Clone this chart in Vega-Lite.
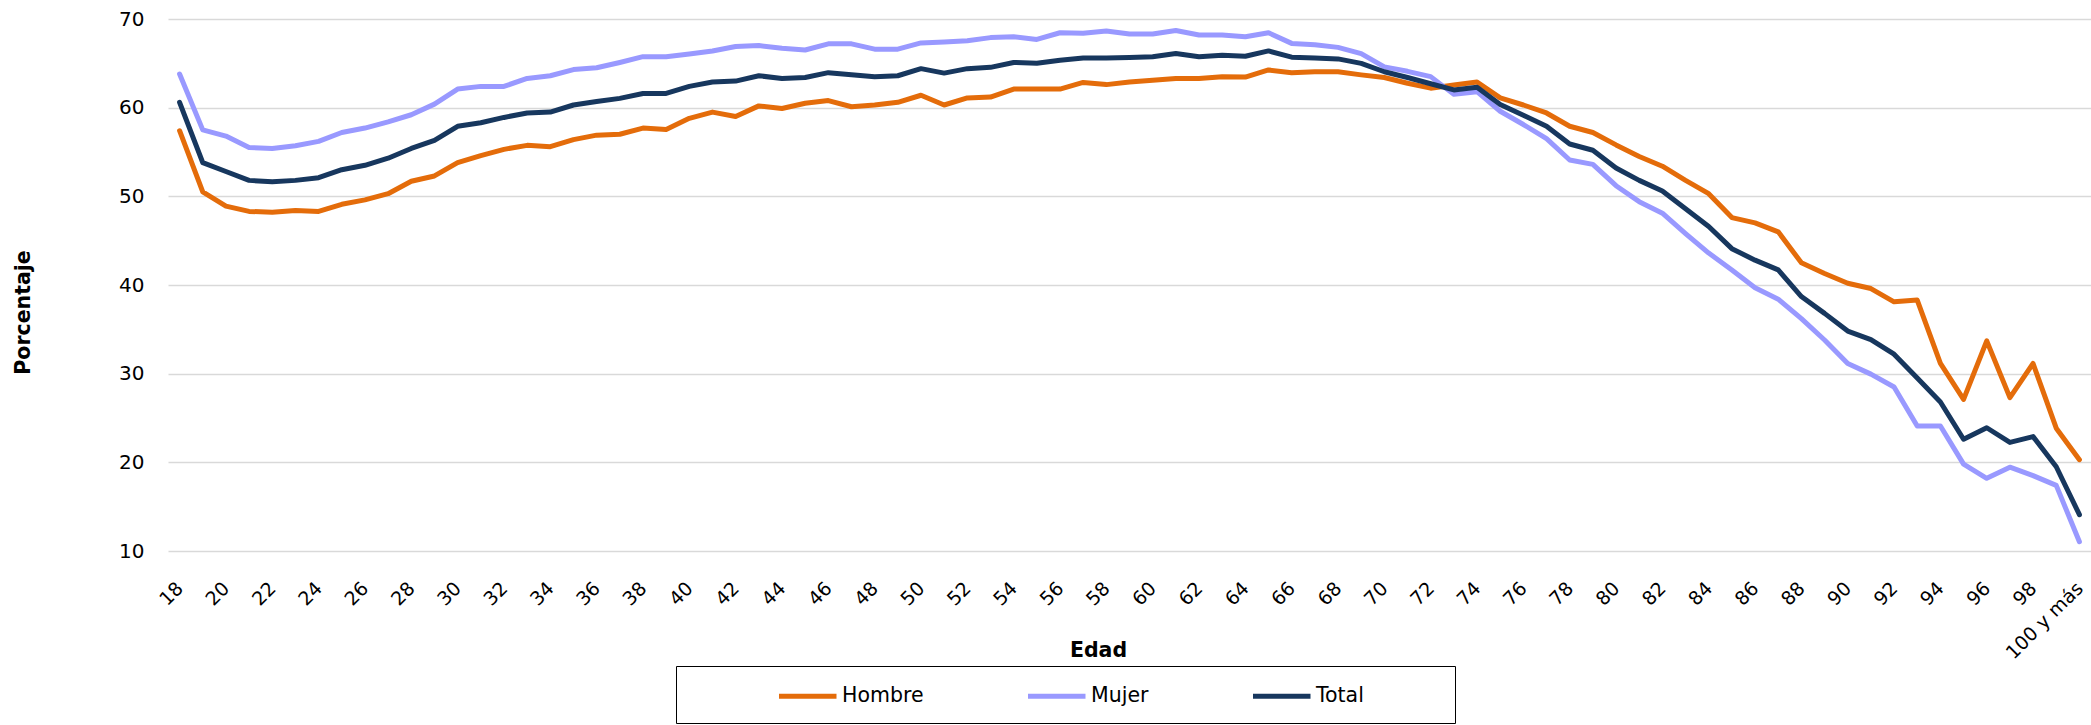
{
  "$schema": "https://vega.github.io/schema/vega-lite/v6.json",
  "autosize": "none",
  "padding": {"left": 168, "top": 19, "right": 0, "bottom": 174},
  "width": 1923,
  "height": 532,
  "data": {
    "values": [
      {"edad": "18", "sexo": "Hombre", "valor": 57.4}, {"edad": "18", "sexo": "Mujer", "valor": 63.8}, {"edad": "18", "sexo": "Total", "valor": 60.6},
      {"edad": "19", "sexo": "Hombre", "valor": 50.5}, {"edad": "19", "sexo": "Mujer", "valor": 57.5}, {"edad": "19", "sexo": "Total", "valor": 53.8},
      {"edad": "20", "sexo": "Hombre", "valor": 48.9}, {"edad": "20", "sexo": "Mujer", "valor": 56.8}, {"edad": "20", "sexo": "Total", "valor": 52.8},
      {"edad": "21", "sexo": "Hombre", "valor": 48.3}, {"edad": "21", "sexo": "Mujer", "valor": 55.5}, {"edad": "21", "sexo": "Total", "valor": 51.8},
      {"edad": "22", "sexo": "Hombre", "valor": 48.2}, {"edad": "22", "sexo": "Mujer", "valor": 55.4}, {"edad": "22", "sexo": "Total", "valor": 51.65},
      {"edad": "23", "sexo": "Hombre", "valor": 48.4}, {"edad": "23", "sexo": "Mujer", "valor": 55.7}, {"edad": "23", "sexo": "Total", "valor": 51.8},
      {"edad": "24", "sexo": "Hombre", "valor": 48.3}, {"edad": "24", "sexo": "Mujer", "valor": 56.2}, {"edad": "24", "sexo": "Total", "valor": 52.1},
      {"edad": "25", "sexo": "Hombre", "valor": 49.1}, {"edad": "25", "sexo": "Mujer", "valor": 57.2}, {"edad": "25", "sexo": "Total", "valor": 53.0},
      {"edad": "26", "sexo": "Hombre", "valor": 49.6}, {"edad": "26", "sexo": "Mujer", "valor": 57.7}, {"edad": "26", "sexo": "Total", "valor": 53.5},
      {"edad": "27", "sexo": "Hombre", "valor": 50.3}, {"edad": "27", "sexo": "Mujer", "valor": 58.4}, {"edad": "27", "sexo": "Total", "valor": 54.3},
      {"edad": "28", "sexo": "Hombre", "valor": 51.7}, {"edad": "28", "sexo": "Mujer", "valor": 59.2}, {"edad": "28", "sexo": "Total", "valor": 55.4},
      {"edad": "29", "sexo": "Hombre", "valor": 52.3}, {"edad": "29", "sexo": "Mujer", "valor": 60.4}, {"edad": "29", "sexo": "Total", "valor": 56.3},
      {"edad": "30", "sexo": "Hombre", "valor": 53.8}, {"edad": "30", "sexo": "Mujer", "valor": 62.1}, {"edad": "30", "sexo": "Total", "valor": 57.9},
      {"edad": "31", "sexo": "Hombre", "valor": 54.6}, {"edad": "31", "sexo": "Mujer", "valor": 62.4}, {"edad": "31", "sexo": "Total", "valor": 58.3},
      {"edad": "32", "sexo": "Hombre", "valor": 55.3}, {"edad": "32", "sexo": "Mujer", "valor": 62.4}, {"edad": "32", "sexo": "Total", "valor": 58.9},
      {"edad": "33", "sexo": "Hombre", "valor": 55.75}, {"edad": "33", "sexo": "Mujer", "valor": 63.3}, {"edad": "33", "sexo": "Total", "valor": 59.4},
      {"edad": "34", "sexo": "Hombre", "valor": 55.6}, {"edad": "34", "sexo": "Mujer", "valor": 63.6}, {"edad": "34", "sexo": "Total", "valor": 59.5},
      {"edad": "35", "sexo": "Hombre", "valor": 56.4}, {"edad": "35", "sexo": "Mujer", "valor": 64.3}, {"edad": "35", "sexo": "Total", "valor": 60.3},
      {"edad": "36", "sexo": "Hombre", "valor": 56.9}, {"edad": "36", "sexo": "Mujer", "valor": 64.5}, {"edad": "36", "sexo": "Total", "valor": 60.7},
      {"edad": "37", "sexo": "Hombre", "valor": 57.0}, {"edad": "37", "sexo": "Mujer", "valor": 65.1}, {"edad": "37", "sexo": "Total", "valor": 61.05},
      {"edad": "38", "sexo": "Hombre", "valor": 57.7}, {"edad": "38", "sexo": "Mujer", "valor": 65.75}, {"edad": "38", "sexo": "Total", "valor": 61.6},
      {"edad": "39", "sexo": "Hombre", "valor": 57.55}, {"edad": "39", "sexo": "Mujer", "valor": 65.75}, {"edad": "39", "sexo": "Total", "valor": 61.6},
      {"edad": "40", "sexo": "Hombre", "valor": 58.8}, {"edad": "40", "sexo": "Mujer", "valor": 66.05}, {"edad": "40", "sexo": "Total", "valor": 62.4},
      {"edad": "41", "sexo": "Hombre", "valor": 59.5}, {"edad": "41", "sexo": "Mujer", "valor": 66.4}, {"edad": "41", "sexo": "Total", "valor": 62.9},
      {"edad": "42", "sexo": "Hombre", "valor": 59.0}, {"edad": "42", "sexo": "Mujer", "valor": 66.9}, {"edad": "42", "sexo": "Total", "valor": 63.0},
      {"edad": "43", "sexo": "Hombre", "valor": 60.2}, {"edad": "43", "sexo": "Mujer", "valor": 67.0}, {"edad": "43", "sexo": "Total", "valor": 63.6},
      {"edad": "44", "sexo": "Hombre", "valor": 59.9}, {"edad": "44", "sexo": "Mujer", "valor": 66.7}, {"edad": "44", "sexo": "Total", "valor": 63.3},
      {"edad": "45", "sexo": "Hombre", "valor": 60.5}, {"edad": "45", "sexo": "Mujer", "valor": 66.5}, {"edad": "45", "sexo": "Total", "valor": 63.4},
      {"edad": "46", "sexo": "Hombre", "valor": 60.8}, {"edad": "46", "sexo": "Mujer", "valor": 67.2}, {"edad": "46", "sexo": "Total", "valor": 63.95},
      {"edad": "47", "sexo": "Hombre", "valor": 60.1}, {"edad": "47", "sexo": "Mujer", "valor": 67.2}, {"edad": "47", "sexo": "Total", "valor": 63.7},
      {"edad": "48", "sexo": "Hombre", "valor": 60.3}, {"edad": "48", "sexo": "Mujer", "valor": 66.6}, {"edad": "48", "sexo": "Total", "valor": 63.5},
      {"edad": "49", "sexo": "Hombre", "valor": 60.6}, {"edad": "49", "sexo": "Mujer", "valor": 66.6}, {"edad": "49", "sexo": "Total", "valor": 63.6},
      {"edad": "50", "sexo": "Hombre", "valor": 61.4}, {"edad": "50", "sexo": "Mujer", "valor": 67.3}, {"edad": "50", "sexo": "Total", "valor": 64.4},
      {"edad": "51", "sexo": "Hombre", "valor": 60.3}, {"edad": "51", "sexo": "Mujer", "valor": 67.4}, {"edad": "51", "sexo": "Total", "valor": 63.9},
      {"edad": "52", "sexo": "Hombre", "valor": 61.1}, {"edad": "52", "sexo": "Mujer", "valor": 67.55}, {"edad": "52", "sexo": "Total", "valor": 64.4},
      {"edad": "53", "sexo": "Hombre", "valor": 61.2}, {"edad": "53", "sexo": "Mujer", "valor": 67.9}, {"edad": "53", "sexo": "Total", "valor": 64.55},
      {"edad": "54", "sexo": "Hombre", "valor": 62.1}, {"edad": "54", "sexo": "Mujer", "valor": 68.0}, {"edad": "54", "sexo": "Total", "valor": 65.1},
      {"edad": "55", "sexo": "Hombre", "valor": 62.1}, {"edad": "55", "sexo": "Mujer", "valor": 67.7}, {"edad": "55", "sexo": "Total", "valor": 65.0},
      {"edad": "56", "sexo": "Hombre", "valor": 62.1}, {"edad": "56", "sexo": "Mujer", "valor": 68.45}, {"edad": "56", "sexo": "Total", "valor": 65.35},
      {"edad": "57", "sexo": "Hombre", "valor": 62.85}, {"edad": "57", "sexo": "Mujer", "valor": 68.4}, {"edad": "57", "sexo": "Total", "valor": 65.6},
      {"edad": "58", "sexo": "Hombre", "valor": 62.6}, {"edad": "58", "sexo": "Mujer", "valor": 68.65}, {"edad": "58", "sexo": "Total", "valor": 65.6},
      {"edad": "59", "sexo": "Hombre", "valor": 62.9}, {"edad": "59", "sexo": "Mujer", "valor": 68.3}, {"edad": "59", "sexo": "Total", "valor": 65.65},
      {"edad": "60", "sexo": "Hombre", "valor": 63.1}, {"edad": "60", "sexo": "Mujer", "valor": 68.3}, {"edad": "60", "sexo": "Total", "valor": 65.75},
      {"edad": "61", "sexo": "Hombre", "valor": 63.3}, {"edad": "61", "sexo": "Mujer", "valor": 68.7}, {"edad": "61", "sexo": "Total", "valor": 66.1},
      {"edad": "62", "sexo": "Hombre", "valor": 63.3}, {"edad": "62", "sexo": "Mujer", "valor": 68.2}, {"edad": "62", "sexo": "Total", "valor": 65.75},
      {"edad": "63", "sexo": "Hombre", "valor": 63.5}, {"edad": "63", "sexo": "Mujer", "valor": 68.2}, {"edad": "63", "sexo": "Total", "valor": 65.9},
      {"edad": "64", "sexo": "Hombre", "valor": 63.45}, {"edad": "64", "sexo": "Mujer", "valor": 68.0}, {"edad": "64", "sexo": "Total", "valor": 65.8},
      {"edad": "65", "sexo": "Hombre", "valor": 64.25}, {"edad": "65", "sexo": "Mujer", "valor": 68.45}, {"edad": "65", "sexo": "Total", "valor": 66.4},
      {"edad": "66", "sexo": "Hombre", "valor": 63.95}, {"edad": "66", "sexo": "Mujer", "valor": 67.25}, {"edad": "66", "sexo": "Total", "valor": 65.7},
      {"edad": "67", "sexo": "Hombre", "valor": 64.05}, {"edad": "67", "sexo": "Mujer", "valor": 67.1}, {"edad": "67", "sexo": "Total", "valor": 65.6},
      {"edad": "68", "sexo": "Hombre", "valor": 64.05}, {"edad": "68", "sexo": "Mujer", "valor": 66.8}, {"edad": "68", "sexo": "Total", "valor": 65.5},
      {"edad": "69", "sexo": "Hombre", "valor": 63.7}, {"edad": "69", "sexo": "Mujer", "valor": 66.1}, {"edad": "69", "sexo": "Total", "valor": 65.0},
      {"edad": "70", "sexo": "Hombre", "valor": 63.4}, {"edad": "70", "sexo": "Mujer", "valor": 64.6}, {"edad": "70", "sexo": "Total", "valor": 64.05},
      {"edad": "71", "sexo": "Hombre", "valor": 62.75}, {"edad": "71", "sexo": "Mujer", "valor": 64.1}, {"edad": "71", "sexo": "Total", "valor": 63.4},
      {"edad": "72", "sexo": "Hombre", "valor": 62.2}, {"edad": "72", "sexo": "Mujer", "valor": 63.5}, {"edad": "72", "sexo": "Total", "valor": 62.7},
      {"edad": "73", "sexo": "Hombre", "valor": 62.55}, {"edad": "73", "sexo": "Mujer", "valor": 61.5}, {"edad": "73", "sexo": "Total", "valor": 62.0},
      {"edad": "74", "sexo": "Hombre", "valor": 62.9}, {"edad": "74", "sexo": "Mujer", "valor": 61.8}, {"edad": "74", "sexo": "Total", "valor": 62.3},
      {"edad": "75", "sexo": "Hombre", "valor": 61.1}, {"edad": "75", "sexo": "Mujer", "valor": 59.6}, {"edad": "75", "sexo": "Total", "valor": 60.35},
      {"edad": "76", "sexo": "Hombre", "valor": 60.3}, {"edad": "76", "sexo": "Mujer", "valor": 58.1}, {"edad": "76", "sexo": "Total", "valor": 59.15},
      {"edad": "77", "sexo": "Hombre", "valor": 59.4}, {"edad": "77", "sexo": "Mujer", "valor": 56.5}, {"edad": "77", "sexo": "Total", "valor": 57.9},
      {"edad": "78", "sexo": "Hombre", "valor": 57.9}, {"edad": "78", "sexo": "Mujer", "valor": 54.1}, {"edad": "78", "sexo": "Total", "valor": 55.9},
      {"edad": "79", "sexo": "Hombre", "valor": 57.2}, {"edad": "79", "sexo": "Mujer", "valor": 53.6}, {"edad": "79", "sexo": "Total", "valor": 55.2},
      {"edad": "80", "sexo": "Hombre", "valor": 55.8}, {"edad": "80", "sexo": "Mujer", "valor": 51.2}, {"edad": "80", "sexo": "Total", "valor": 53.2},
      {"edad": "81", "sexo": "Hombre", "valor": 54.5}, {"edad": "81", "sexo": "Mujer", "valor": 49.4}, {"edad": "81", "sexo": "Total", "valor": 51.8},
      {"edad": "82", "sexo": "Hombre", "valor": 53.4}, {"edad": "82", "sexo": "Mujer", "valor": 48.1}, {"edad": "82", "sexo": "Total", "valor": 50.6},
      {"edad": "83", "sexo": "Hombre", "valor": 51.8}, {"edad": "83", "sexo": "Mujer", "valor": 45.8}, {"edad": "83", "sexo": "Total", "valor": 48.6},
      {"edad": "84", "sexo": "Hombre", "valor": 50.3}, {"edad": "84", "sexo": "Mujer", "valor": 43.6}, {"edad": "84", "sexo": "Total", "valor": 46.6},
      {"edad": "85", "sexo": "Hombre", "valor": 47.6}, {"edad": "85", "sexo": "Mujer", "valor": 41.7}, {"edad": "85", "sexo": "Total", "valor": 44.1},
      {"edad": "86", "sexo": "Hombre", "valor": 47.0}, {"edad": "86", "sexo": "Mujer", "valor": 39.7}, {"edad": "86", "sexo": "Total", "valor": 42.8},
      {"edad": "87", "sexo": "Hombre", "valor": 46.0}, {"edad": "87", "sexo": "Mujer", "valor": 38.4}, {"edad": "87", "sexo": "Total", "valor": 41.7},
      {"edad": "88", "sexo": "Hombre", "valor": 42.5}, {"edad": "88", "sexo": "Mujer", "valor": 36.2}, {"edad": "88", "sexo": "Total", "valor": 38.7},
      {"edad": "89", "sexo": "Hombre", "valor": 41.3}, {"edad": "89", "sexo": "Mujer", "valor": 33.8}, {"edad": "89", "sexo": "Total", "valor": 36.8},
      {"edad": "90", "sexo": "Hombre", "valor": 40.2}, {"edad": "90", "sexo": "Mujer", "valor": 31.15}, {"edad": "90", "sexo": "Total", "valor": 34.8},
      {"edad": "91", "sexo": "Hombre", "valor": 39.6}, {"edad": "91", "sexo": "Mujer", "valor": 29.95}, {"edad": "91", "sexo": "Total", "valor": 33.85},
      {"edad": "92", "sexo": "Hombre", "valor": 38.1}, {"edad": "92", "sexo": "Mujer", "valor": 28.5}, {"edad": "92", "sexo": "Total", "valor": 32.2},
      {"edad": "93", "sexo": "Hombre", "valor": 38.3}, {"edad": "93", "sexo": "Mujer", "valor": 24.1}, {"edad": "93", "sexo": "Total", "valor": 29.5},
      {"edad": "94", "sexo": "Hombre", "valor": 31.15}, {"edad": "94", "sexo": "Mujer", "valor": 24.1}, {"edad": "94", "sexo": "Total", "valor": 26.8},
      {"edad": "95", "sexo": "Hombre", "valor": 27.1}, {"edad": "95", "sexo": "Mujer", "valor": 19.8}, {"edad": "95", "sexo": "Total", "valor": 22.6},
      {"edad": "96", "sexo": "Hombre", "valor": 33.7}, {"edad": "96", "sexo": "Mujer", "valor": 18.2}, {"edad": "96", "sexo": "Total", "valor": 23.9},
      {"edad": "97", "sexo": "Hombre", "valor": 27.3}, {"edad": "97", "sexo": "Mujer", "valor": 19.45}, {"edad": "97", "sexo": "Total", "valor": 22.25},
      {"edad": "98", "sexo": "Hombre", "valor": 31.15}, {"edad": "98", "sexo": "Mujer", "valor": 18.5}, {"edad": "98", "sexo": "Total", "valor": 22.9},
      {"edad": "99", "sexo": "Hombre", "valor": 23.85}, {"edad": "99", "sexo": "Mujer", "valor": 17.4}, {"edad": "99", "sexo": "Total", "valor": 19.5},
      {"edad": "100 y más", "sexo": "Hombre", "valor": 20.3}, {"edad": "100 y más", "sexo": "Mujer", "valor": 11.05}, {"edad": "100 y más", "sexo": "Total", "valor": 14.1}
    ]
  },
  "mark": {"type": "line", "strokeWidth": 5, "strokeJoin": "round", "strokeCap": "round"},
  "encoding": {
    "x": {
      "field": "edad",
      "type": "ordinal",
      "sort": null,
      "scale": {"type": "point", "padding": 0.5},
      "axis": {
        "values": ["18", "20", "22", "24", "26", "28", "30", "32", "34", "36", "38", "40", "42", "44", "46", "48", "50", "52", "54", "56", "58", "60", "62", "64", "66", "68", "70", "72", "74", "76", "78", "80", "82", "84", "86", "88", "90", "92", "94", "96", "98", "100 y más"],
        "labelAngle": -45,
        "labelAlign": "right",
        "labelBaseline": "middle",
        "labelPadding": 34,
        "labelOverlap": false,
        "labelFontSize": 19,
        "ticks": false,
        "domain": false,
        "grid": false,
        "title": "Edad",
        "titleX": 930,
        "titleY": 99,
        "titleAlign": "center",
        "titleBaseline": "middle"
      }
    },
    "y": {
      "field": "valor",
      "type": "quantitative",
      "scale": {"domain": [10, 70], "nice": false, "zero": false},
      "axis": {
        "values": [10, 20, 30, 40, 50, 60, 70],
        "grid": true,
        "gridColor": "#D9D9D9",
        "gridWidth": 1.5,
        "domain": false,
        "ticks": false,
        "labelPadding": 24,
        "labelFontSize": 20,
        "title": "Porcentaje",
        "titleX": -145,
        "titleY": 293,
        "titleAngle": -90,
        "titleAlign": "center",
        "titleBaseline": "middle"
      }
    },
    "color": {
      "field": "sexo",
      "type": "nominal",
      "scale": {"domain": ["Hombre", "Mujer", "Total"], "range": ["#E46C0A", "#9999FF", "#17375E"]},
      "legend": {
        "orient": "none",
        "legendX": 508,
        "legendY": 647,
        "direction": "horizontal",
        "title": " ",
        "titleOrient": "left",
        "titlePadding": 119,
        "symbolType": "M-4,0H1",
        "symbolSize": 529,
        "symbolStrokeWidth": 5,
        "labelOffset": 3,
        "columnPadding": 94,
        "padding": 16,
        "strokeColor": "#000",
        "fillColor": "#fff",
        "labelExpr": "datum.label == 'Total' ? 'Total\u2800\u2800\u2800\u2800\u2800' : datum.label"
      }
    }
  },
  "config": {
    "font": "DejaVu Sans",
    "view": {"stroke": null},
    "axis": {
      "labelFont": "DejaVu Sans",
      "labelColor": "#000",
      "titleFont": "DejaVu Sans",
      "titleFontSize": 20.5,
      "titleFontWeight": "bold",
      "titleColor": "#000"
    },
    "legend": {
      "labelFont": "DejaVu Sans",
      "labelFontSize": 20.5,
      "labelColor": "#000",
      "titleFontSize": 20.5
    }
  }
}
